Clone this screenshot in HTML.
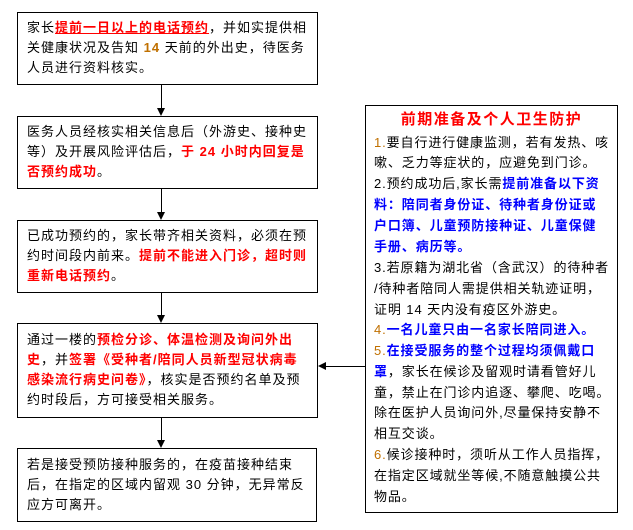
<!DOCTYPE html>
<html><head><meta charset="utf-8"><style>
body{margin:0;width:633px;height:530px;background:#fff;position:relative;overflow:hidden;font-family:"Liberation Sans","Noto Sans CJK SC","WenQuanYi Zen Hei",sans-serif;font-size:13px;color:#000}
.b{position:absolute;border:1px solid #000;box-sizing:border-box}
.l{position:absolute;white-space:nowrap;line-height:20px}
.r{color:#f00;font-weight:bold}
.u{text-decoration:underline}
.bl{color:#00f;font-weight:bold}
.o{color:#c07000}
.v{position:absolute;width:1px;background:#000;left:161px}
.ah{position:absolute;left:157px;width:0;height:0;border-left:4px solid transparent;border-right:4px solid transparent;border-top:8px solid #000}
</style></head><body>
<div class="b" style="left:17px;top:12px;width:301px;height:73px"></div>
<div class="b" style="left:17px;top:116px;width:301px;height:73px"></div>
<div class="b" style="left:17px;top:220px;width:301px;height:73px"></div>
<div class="b" style="left:17px;top:323px;width:301px;height:95px"></div>
<div class="b" style="left:17px;top:448px;width:300px;height:74px"></div>
<div class="b" style="left:365px;top:105px;width:253px;height:408px"></div>

<div class="v" style="top:85px;height:24px"></div><div class="ah" style="top:108px"></div>
<div class="v" style="top:189px;height:24px"></div><div class="ah" style="top:212px"></div>
<div class="v" style="top:293px;height:23px"></div><div class="ah" style="top:315px"></div>
<div class="v" style="top:418px;height:23px"></div><div class="ah" style="top:440px"></div>
<div style="position:absolute;left:326px;top:366px;width:39px;height:1px;background:#000"></div>
<div style="position:absolute;left:318px;top:362px;border-top:4px solid transparent;border-bottom:4px solid transparent;border-right:8px solid #000"></div>

<div style="letter-spacing:1px">
<div class="l" style="left:27px;top:18px">家长<span class="r u">提前一日以上的电话预约</span>，并如实提供相</div>
<div class="l" style="left:27px;top:38px">关健康状况及告知 <span class="o" style="font-weight:bold">14</span> 天前的外出史，待医务</div>
<div class="l" style="left:27px;top:58px">人员进行资料核实。</div>

<div class="l" style="left:27px;top:122px">医务人员经核实相关信息后（外游史、接种史</div>
<div class="l" style="left:27px;top:142px">等）及开展风险评估后，<span class="r">于 24 小时内回复是</span></div>
<div class="l" style="left:27px;top:162px"><span class="r">否预约成功</span>。</div>

<div class="l" style="left:27px;top:226px">已成功预约的，家长带齐相关资料，必须在预</div>
<div class="l" style="left:27px;top:246px">约时间段内前来。<span class="r">提前不能进入门诊，超时则</span></div>
<div class="l" style="left:27px;top:266px"><span class="r">重新电话预约</span>。</div>

<div class="l" style="left:27px;top:330px">通过一楼的<span class="r">预检分诊、体温检测及询问外出</span></div>
<div class="l" style="left:27px;top:350px"><span class="r">史</span>，并<span class="r">签署《受种者/陪同人员新型冠状病毒</span></div>
<div class="l" style="left:27px;top:370px"><span class="r">感染流行病史问卷》</span>，核实是否预约名单及预</div>
<div class="l" style="left:27px;top:390px">约时段后，方可接受相关服务。</div>

<div class="l" style="left:27px;top:455px">若是接受预防接种服务的，在疫苗接种结束</div>
<div class="l" style="left:27px;top:475px">后，在指定的区域内留观 30 分钟，无异常反</div>
<div class="l" style="left:27px;top:495px">应方可离开。</div>
</div>

<div class="l" style="left:365px;width:253px;text-align:center;top:110px;font-size:15px;color:#f00;font-weight:bold;letter-spacing:1.5px">前期准备及个人卫生防护</div>
<div style="letter-spacing:0.9px">
<div class="l" style="left:374px;top:133px"><span class="o">1.</span>要自行进行健康监测，若有发热、咳</div>
<div class="l" style="left:374px;top:153px">嗽、乏力等症状的，应避免到门诊。</div>
<div class="l" style="left:374px;top:174px">2.预约成功后,家长需<span class="bl">提前准备以下资</span></div>
<div class="l" style="left:374px;top:195px"><span class="bl">料：陪同者身份证、待种者身份证或</span></div>
<div class="l" style="left:374px;top:216px"><span class="bl">户口簿、儿童预防接种证、儿童保健</span></div>
<div class="l" style="left:374px;top:237px"><span class="bl">手册、病历等。</span></div>
<div class="l" style="left:374px;top:258px">3.若原籍为湖北省（含武汉）的待种者</div>
<div class="l" style="left:374px;top:279px">/待种者陪同人需提供相关轨迹证明，</div>
<div class="l" style="left:374px;top:300px">证明 14 天内没有疫区外游史。</div>
<div class="l" style="left:374px;top:320px"><span class="o">4.</span><span class="bl">一名儿童只由一名家长陪同进入。</span></div>
<div class="l" style="left:374px;top:341px"><span class="o">5.</span><span class="bl">在接受服务的整个过程均须佩戴口</span></div>
<div class="l" style="left:374px;top:362px"><span class="bl">罩</span>，家长在候诊及留观时请看管好儿</div>
<div class="l" style="left:374px;top:383px">童，禁止在门诊内追逐、攀爬、吃喝。</div>
<div class="l" style="left:374px;top:403px">除在医护人员询问外,尽量保持安静不</div>
<div class="l" style="left:374px;top:424px">相互交谈。</div>
<div class="l" style="left:374px;top:445px"><span class="o">6.</span>候诊接种时，须听从工作人员指挥，</div>
<div class="l" style="left:374px;top:466px">在指定区域就坐等候,不随意触摸公共</div>
<div class="l" style="left:374px;top:487px">物品。</div>
</div>
</body></html>
